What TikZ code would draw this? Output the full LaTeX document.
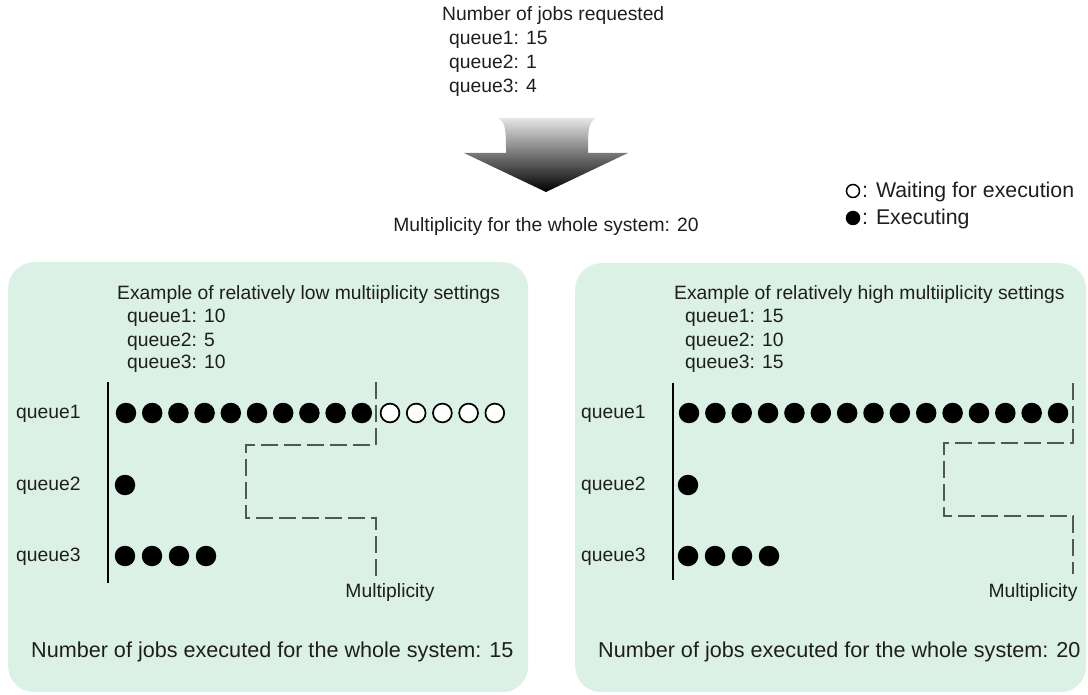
\documentclass[tikz,border=0pt]{standalone}
\usepackage{fontspec}
\setmainfont{Liberation Sans}
\definecolor{panelbg}{HTML}{DCF1E5}
\definecolor{txt}{HTML}{1E1E1E}
\definecolor{dashc}{HTML}{505854}
\begin{document}
\begin{tikzpicture}[x=1pt,y=-1pt,
  txtnode/.style={anchor=base west, inner sep=0pt, text=txt, font=\fontsize{19.3}{23}\selectfont},
  legtxt/.style={anchor=base west, inner sep=0pt, text=txt, font=\fontsize{21.3}{25}\selectfont},
  bigtxt/.style={anchor=base west, inner sep=0pt, text=txt, font=\fontsize{21.6}{25}\selectfont},
  fullc/.style={circle, fill=black, minimum size=20.5pt, inner sep=0pt},
  openc/.style={circle, draw=black, line width=1.7pt, fill=white, minimum size=18.8pt, inner sep=0pt},
  legfull/.style={circle, fill=black, minimum size=14.5pt, inner sep=0pt},
  legopen/.style={circle, draw=black, line width=1.5pt, fill=white, minimum size=13pt, inner sep=0pt},
  panel/.style={fill=panelbg, draw=none, rounded corners=26pt, inner sep=0pt, anchor=north west},
  axisline/.style={line width=1.6pt, draw=black},
  multline/.style={line width=2pt, draw=dashc, dash pattern=on 17pt off 6pt},
]
\useasboundingbox (0,0) rectangle (1088,695);

% ---------- top part ----------
\node[txtnode] (req)  at (442,21) {Number of jobs requested};
\node[txtnode] (rq1)  at (449,45) {queue1: 15};
\node[txtnode] (rq2)  at (449,69) {queue2: 1};
\node[txtnode] (rq3)  at (449,93) {queue3: 4};

\shade[top color=black!10, middle color=black!55, bottom color=black]
  (498,118) .. controls (506,122) and (506,132) .. (506,153)
  -- (464,153) -- (546,192) -- (628,153) -- (588,153)
  .. controls (588,132) and (588,122) .. (596,118) -- cycle;

\node[txtnode, anchor=base] (whole) at (546,232) {Multiplicity for the whole system: 20};

% legend
\node[legopen] (lgo) at (853,191) {};
\node[legtxt] (lgot) at (862,198) {: Waiting for execution};
\node[legfull] (lgf) at (853,218) {};
\node[legtxt] (lgft) at (862,225) {: Executing};

% ---------- panels ----------
\node[panel, minimum width=520pt, minimum height=430pt] (lpanel) at (8,262) {};
\node[panel, minimum width=511pt, minimum height=429pt] (rpanel) at (575,263) {};

% ---------- left panel ----------
\node[txtnode] (lex) at (117,300) {Example of relatively low multiiplicity settings};
\node[txtnode] (ls1) at (127,323) {queue1: 10};
\node[txtnode] (ls2) at (127,346) {queue2: 5};
\node[txtnode] (ls3) at (127,369) {queue3: 10};

\node[txtnode] (lq1) at (16,418) {queue1};
\node[txtnode] (lq2) at (16,490) {queue2};
\node[txtnode] (lq3) at (16,561) {queue3};

\coordinate (lax1) at (108,382);
\coordinate (lax2) at (108,583);
\draw[axisline] (lax1) -- (lax2);

\foreach \i in {0,...,9} \node[fullc] (la\i) at ({126+26.2*\i},413) {};
\foreach \j in {0,...,4} \node[openc] (lo\j) at ({390+26.2*\j},413) {};
\node[fullc] (lb0) at (125,485) {};
\foreach \i in {0,...,3} \node[fullc] (lc\i) at ({125+27*\i},556) {};

\coordinate (lm1) at (376,382);
\coordinate (lm2) at (376,445);
\coordinate (lm3) at (246,445);
\coordinate (lm4) at (246,518);
\coordinate (lm5) at (376,518);
\coordinate (lm6) at (376,576);
\draw[multline] (lm1) -- (lm2) -- (lm3) -- (lm4) -- (lm5) -- (lm6);
\node[txtnode, anchor=base] (lmul) at (390,597) {Multiplicity};

\node[bigtxt] (lres) at (31,657) {Number of jobs executed for the whole system: 15};

% ---------- right panel ----------
\node[txtnode] (rex) at (674,300) {Example of relatively high multiiplicity settings};
\node[txtnode] (rs1) at (685,323) {queue1: 15};
\node[txtnode] (rs2) at (685,346) {queue2: 10};
\node[txtnode] (rs3) at (685,369) {queue3: 15};

\node[txtnode] (rq1l) at (581,418) {queue1};
\node[txtnode] (rq2l) at (581,490) {queue2};
\node[txtnode] (rq3l) at (581,561) {queue3};

\coordinate (rax1) at (673,383);
\coordinate (rax2) at (673,580);
\draw[axisline] (rax1) -- (rax2);

\foreach \i in {0,...,14} \node[fullc] (ra\i) at ({689+26.36*\i},413) {};
\node[fullc] (rb0) at (688,485) {};
\foreach \i in {0,...,3} \node[fullc] (rc\i) at ({688+27*\i},556) {};

\coordinate (rm1) at (1073,383);
\coordinate (rm2) at (1073,443);
\coordinate (rm3) at (944,443);
\coordinate (rm4) at (944,516);
\coordinate (rm5) at (1073,516);
\coordinate (rm6) at (1073,574);
\draw[multline] (rm1) -- (rm2) -- (rm3) -- (rm4) -- (rm5) -- (rm6);
\node[txtnode, anchor=base] (rmul) at (1033,597) {Multiplicity};

\node[bigtxt] (rres) at (598,657) {Number of jobs executed for the whole system: 20};
\end{tikzpicture}
\end{document}
